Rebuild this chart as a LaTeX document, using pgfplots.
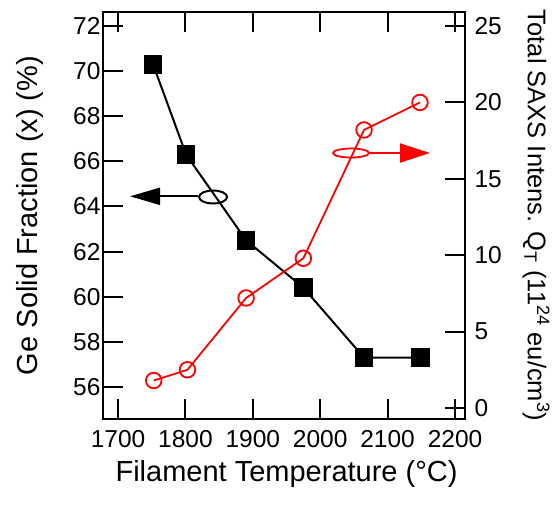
\documentclass[border=0pt]{standalone}
\usepackage{fontspec}
\setmainfont{Liberation Sans}
\usepackage{pgfplots}
\pgfplotsset{compat=1.18}
\usetikzlibrary{arrows.meta}
\definecolor{myred}{RGB}{255,0,0}
\begin{document}
\begin{tikzpicture}
\useasboundingbox (-103pt,-86pt) rectangle (457pt,419pt);
\pgfplotsset{
 common/.style={
  scale only axis, width=362pt, height=407pt,
  xmin=1677.7, xmax=2214.8,
  /pgf/number format/assume math mode=true,
  /pgf/number format/set thousands separator={},
  tick label style={font=\fontsize{24.5}{24.5}\selectfont},
  major tick length=20pt,
  tick style={line width=2pt, black},
  axis line style={line width=2pt},
  tick align=inside,
  clip=false,
 }
}
\begin{axis}[common,
 ymin=54.58, ymax=72.62,
 xtick={1700,1800,1900,2000,2100,2200},
 xtick pos=both, xticklabel pos=lower,
 ytick={56,58,60,62,64,66,68,70,72}, ytick pos=left,
 yticklabel style={xshift=1pt},
 xticklabel style={yshift=-8pt},
 every axis x label/.style={at={(axis description cs:0.507,-0.1548)}, anchor=base, font=\fontsize{29}{29}\selectfont},
 every axis y label/.style={at={(axis description cs:-0.1823,0.5)}, rotate=90, anchor=base, font=\fontsize{29}{29}\selectfont},
 xlabel={Filament Temperature (°C)},
 ylabel={Ge Solid Fraction (x) (\%)},
]
\addplot[black, line width=2pt, mark=square*, mark size=8.8pt, mark options={line width=0pt}]
 coordinates {(1752,70.3) (1801,66.3) (1890,62.5) (1975,60.4) (2065,57.3) (2149,57.3)};
\draw[line width=2pt] (axis cs:1841,64.42) ellipse [x radius=14pt, y radius=6.5pt];
\draw[line width=2pt, -{Triangle[length=30pt,width=17pt]}] (axis cs:1818.7,64.45) -- (axis cs:1717.8,64.45);
\end{axis}
\begin{axis}[common,
 ymin=-0.72, ymax=25.92,
 hide x axis,
 ytick={0,5,10,15,20,25}, ytick pos=right, yticklabel pos=right,
 yticklabel style={xshift=6pt},
 every axis y label/.style={at={(axis description cs:1.174,0.5)}, rotate=-90, anchor=base, font=\fontsize{25.5}{25.5}\selectfont},
 ylabel={Total SAXS Intens. Q\textsubscript{T} (11\textsuperscript{24} eu/cm\textsuperscript{3})},
]
\addplot[myred, line width=1.8pt, mark=o, mark size=7.8pt, mark options={fill=white}]
 coordinates {(1753,1.8) (1803,2.5) (1890,7.2) (1975,9.8) (2065,18.2) (2148,20.0)};
\draw[myred, line width=1.8pt] (axis cs:2045.7,16.69) ellipse [x radius=18pt, y radius=4.5pt];
\draw[myred, line width=1.8pt, -{Triangle[length=30pt,width=19pt]}] (axis cs:2073.9,16.69) -- (axis cs:2162.9,16.69);
\end{axis}
\end{tikzpicture}
\end{document}
